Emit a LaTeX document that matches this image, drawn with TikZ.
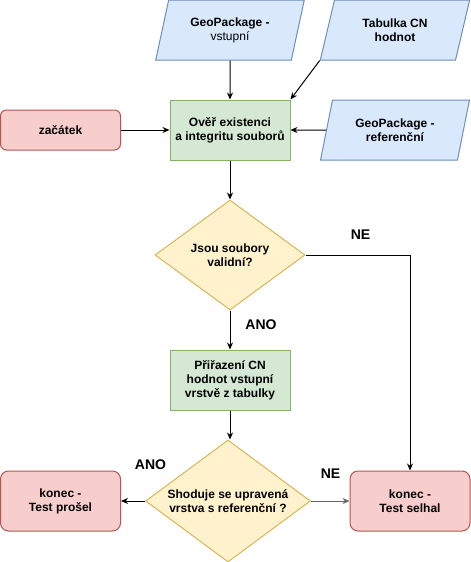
\documentclass[tikz,border=0pt]{standalone}
\usepackage{fontspec}
\setmainfont{Liberation Sans}
\usetikzlibrary{shapes.geometric,arrows.meta}
\definecolor{bluf}{HTML}{DAE8FC}
\definecolor{blud}{HTML}{6C8EBF}
\definecolor{grnf}{HTML}{D5E8D4}
\definecolor{grnd}{HTML}{82B366}
\definecolor{redf}{HTML}{F8CECC}
\definecolor{redd}{HTML}{B85450}
\definecolor{yelf}{HTML}{FFF2CC}
\definecolor{yeld}{HTML}{D6B656}
\begin{document}
\begin{tikzpicture}[x=1pt,y=-1pt,
  base/.style={font=\fontsize{12}{14}\selectfont\bfseries, align=center, line width=1pt, inner sep=0pt},
  proc/.style={base, rectangle, draw=grnd, fill=grnf, minimum width=120pt, minimum height=60pt},
  term/.style={base, rectangle, rounded corners=8pt, draw=redd, fill=redf, minimum width=120pt, minimum height=60pt},
  io/.style={base, trapezium, trapezium left angle=71.57, trapezium right angle=108.43, trapezium stretches=true, minimum width=150pt, minimum height=60pt, draw=blud, fill=bluf},
  dec/.style={base, diamond, shape aspect=1.35, draw=yeld, fill=yelf},
  lbl/.style={font=\fontsize{14}{16}\selectfont\bfseries, inner sep=0pt},
  arr/.style={line width=1pt, -{Stealth[length=7pt,width=6pt]}}
]
\useasboundingbox (0,0) rectangle (471,562);
\node[io] (g1) at (230,30) {GeoPackage -\\\mdseries vstupní};
\node[io] (tab) at (395,30) {Tabulka CN\\hodnot};
\node[term, minimum height=40pt, rounded corners=6pt] (start) at (60.5,130) {začátek};
\node[proc] (ov) at (230,130) {Ověř existenci\\a integritu souborů};
\node[io] (g3) at (395,130) {GeoPackage -\\referenční};
\node[dec, minimum width=150pt, minimum height=110pt] (d1) at (230,255) {Jsou soubory\\validní?};
\node[proc] (pr) at (230,380) {Přiřazení CN\\hodnot vstupní\\vrstvě z tabulky};
\node[dec, minimum width=165pt, minimum height=122pt] (d2) at (228,501) {Shoduje se upravená\\vrstva s referenční ?};
\node[term] (ok) at (60.5,501) {konec -\\Test prošel};
\node[term] (fail) at (410,501) {konec -\\Test selhal};

\draw[arr] (g1.south) -- (ov.north);
\draw[arr] (tab.bottom left corner) -- (ov.north east);
\draw[arr] (start.east) -- (ov.west);
\draw[arr] (g3.west) -- (ov.east);
\draw[arr] (ov.south) -- (d1.north);
\draw[arr] (d1.east) -| (fail.north);
\draw[arr] (d1.south) -- (pr.north);
\draw[arr] (pr.south) -- (pr.south |- d2.north);
\draw[arr] (d2.west) -- (ok.east);
\draw[arr, draw=black!60, fill=black!60] (d2.east) -- (fail.west);

\node[lbl] (ne1) at (360.5,235) {NE};
\node[lbl] (ano1) at (261,325) {ANO};
\node[lbl] (ano2) at (150.5,465) {ANO};
\node[lbl] (ne2) at (330.5,474) {NE};
\end{tikzpicture}
\end{document}
